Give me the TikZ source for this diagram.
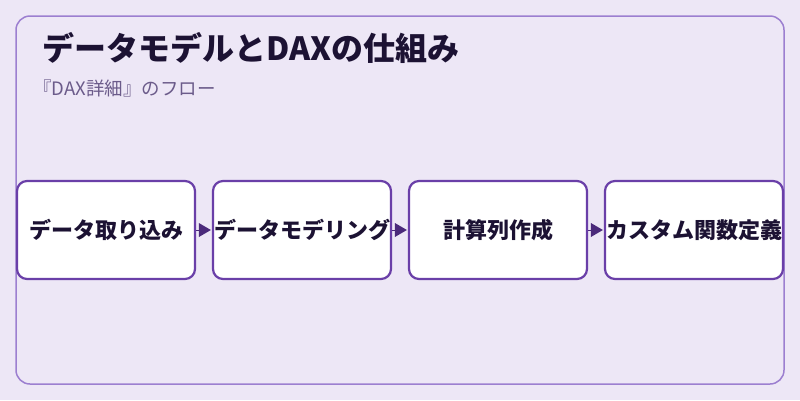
\documentclass[tikz,border=0pt]{standalone}
\usepackage{fontspec}
\setmainfont{Noto Sans CJK JP}
\newfontfamily\cjk{Noto Sans CJK JP}
\usetikzlibrary{arrows.meta}
\definecolor{bgc}{HTML}{EDE7F6}
\definecolor{framec}{HTML}{9C7FD0}
\definecolor{boxc}{HTML}{6A3FA8}
\definecolor{arrc}{HTML}{4B2A7B}
\definecolor{titlec}{HTML}{1C1233}
\definecolor{subc}{HTML}{6B5B8A}
\tikzset{
  stepbox/.style={draw=boxc, line width=2.2pt, fill=white, rounded corners=10pt,
    minimum width=178pt, minimum height=98pt, inner sep=0pt,
    font=\cjk\bfseries\fontsize{22}{26}\selectfont, text=titlec},
  flow/.style={draw=arrc, line width=1pt},
  flowtip/.style={fill=arrc}
}
\newcommand{\flowarrow}[2]{%
  \draw[flow] (#1.east) -- ([xshift=-12pt]#2.west);
  \fill[flowtip] ([xshift=-1pt]#2.west) -- ([xshift=-13pt,yshift=7pt]#2.west) -- ([xshift=-13pt,yshift=-7pt]#2.west) -- cycle;}
\begin{document}
\begin{tikzpicture}[x=1pt,y=-1pt]
\fill[bgc] (0,0) rectangle (800,400);
\useasboundingbox (0,0) rectangle (800,400);
\draw[framec, line width=1.5pt, rounded corners=14pt] (16,16) rectangle (784,384);
\node[anchor=base west, inner sep=0pt, text=titlec, font=\cjk\bfseries\fontsize{32}{38}\selectfont] (title) at (42,60) {データモデルとDAXの仕組み};
\node[anchor=base west, inner sep=0pt, text=subc, font=\cjk\fontsize{18.5}{22}\selectfont] (sub) at (33,95) {『DAX詳細』のフロー};
\node[stepbox] (b1) at (106,230) {データ取り込み};
\node[stepbox] (b2) at (302,230) {データモデリング};
\node[stepbox] (b3) at (498,230) {計算列作成};
\node[stepbox] (b4) at (694,230) {カスタム関数定義};
\flowarrow{b1}{b2}
\flowarrow{b2}{b3}
\flowarrow{b3}{b4}
\end{tikzpicture}
\end{document}
